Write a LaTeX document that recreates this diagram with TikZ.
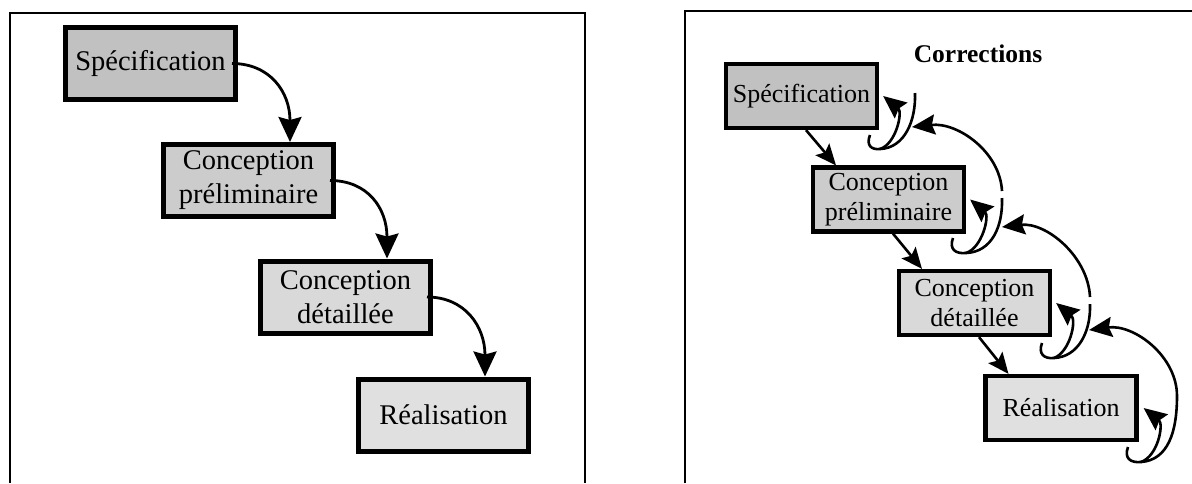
\documentclass[tikz,border=0pt]{standalone}
\usepackage{fontspec}
\setmainfont{Liberation Serif}
\usetikzlibrary{arrows.meta}
\definecolor{gA}{gray}{0.755}
\definecolor{gB}{gray}{0.80}
\definecolor{gC}{gray}{0.85}
\definecolor{gD}{gray}{0.88}
\begin{document}
\begin{tikzpicture}[x=1pt,y=-1pt,
  frame/.style={line width=2.2pt},
  boxL/.style={draw, line width=5pt, minimum width=170pt, minimum height=72pt, align=center, inner sep=0pt, font=\fontsize{28.5}{34}\selectfont},
  boxR/.style={draw, line width=4.2pt, minimum width=151pt, minimum height=64pt, align=center, inner sep=0pt, font=\fontsize{26}{30}\selectfont},
  flowL/.style={line width=2.8pt, -{Stealth[length=25pt,width=23pt,inset=3pt]}},
  flowR/.style={line width=2.6pt, -{Stealth[length=21pt,width=18pt,inset=4pt]}},
  hookline/.style={line width=2.6pt},
  backarrow/.style={line width=2.6pt, -{Stealth[length=23pt,width=20pt,inset=3pt]}},
]
\useasboundingbox (0,0) rectangle (1192,483);

% frames
\draw[frame] (10,483) -- (10,13) -- (585,13) -- (585,483);
\draw[frame] (685,483) -- (685,11) -- (1192,11);

% ---------- left panel ----------
\node[boxL, fill=gA] (sL)  at (150.5,63.5) {Spécification};
\node[boxL, fill=gB] (cpL) at (248.5,180.5) {Conception\\préliminaire};
\node[boxL, fill=gC] (cdL) at (345.5,297) {Conception\\détaillée};
\node[boxL, fill=gD] (rL)  at (443.5,415) {Réalisation};

\draw[flowL] ([xshift=-6pt]sL.east)  .. controls +(38,0) and +(0,-50) .. ([xshift=41.5pt]cpL.north);
\draw[flowL] ([xshift=-6pt]cpL.east) .. controls +(38,0) and +(0,-50) .. ([xshift=41.5pt]cdL.north);
\draw[flowL] ([xshift=-6pt]cdL.east) .. controls +(38,0) and +(0,-50) .. ([xshift=41.5pt]rL.north);

% ---------- right panel ----------
\node[boxR, fill=gA] (sR)  at (801.5,96) {Spécification};
\node[boxR, fill=gB] (cpR) at (888.5,199.5) {Conception\\préliminaire};
\node[boxR, fill=gC] (cdR) at (974.5,303) {Conception\\détaillée};
\node[boxR, fill=gD] (rR)  at (1061,408) {Réalisation};
\node[font=\bfseries\fontsize{25.5}{30}\selectfont] (corr) at (978,54) {Corrections};

\draw[flowR] ([xshift=4.5pt]sR.south)  -- ([xshift=-52.5pt]cpR.north);
\draw[flowR] ([xshift=4.5pt]cpR.south) -- ([xshift=-52.5pt]cdR.north);
\draw[flowR] ([xshift=4.5pt]cdR.south) -- ([xshift=-52.5pt]rR.north);

% loop points
\coordinate (h1) at (870,135);  \coordinate (b1) at (880,149);
\coordinate (o1) at (915,93);   \coordinate (u1) at (912,127);
\coordinate (h2) at (953,238);  \coordinate (b2) at (966,253);
\coordinate (o2) at (1002,198); \coordinate (v2) at (1002,191); \coordinate (u2) at (1002,227);
\coordinate (h3) at (1042,343); \coordinate (b3) at (1054,358);
\coordinate (o3) at (1090,304); \coordinate (v3) at (1090,297); \coordinate (u3) at (1089,330);
\coordinate (h4) at (1128,447); \coordinate (b4) at (1141,462);

% Spécification loop
\draw[hookline] (h1) .. controls (866,145) and (871,150) .. (b1);
\draw[backarrow] (b1) .. controls (896,144) and (903,112) .. ([xshift=4pt]sR.east);
\draw[hookline] (b1) .. controls (905,148) and (916,120) .. (o1);

% Conception préliminaire loop
\draw[hookline] (h2) .. controls (949,249) and (955,254) .. (b2);
\draw[backarrow] (b2) .. controls (982,248) and (990,216) .. ([xshift=4pt]cpR.east);
\draw[hookline] (b2) .. controls (992,252) and (1003,226) .. (o2);
\draw[backarrow] (v2) .. controls (1000,152) and (958,122) .. (u1);

% Conception détaillée loop
\draw[hookline] (h3) .. controls (1038,354) and (1044,359) .. (b3);
\draw[backarrow] (b3) .. controls (1070,352) and (1077,320) .. ([xshift=4pt]cdR.east);
\draw[hookline] (b3) .. controls (1078,357) and (1091,332) .. (o3);
\draw[backarrow] (v3) .. controls (1088,256) and (1046,222) .. (u2);

% Réalisation loop
\draw[hookline] (h4) .. controls (1124,458) and (1130,463) .. (b4);
\draw[backarrow] (b4) .. controls (1158,456) and (1164,424) .. ([xshift=5pt]rR.east);
\draw[backarrow] (b4) .. controls (1168,460) and (1177,432) .. (1177,396)
  .. controls (1177,356) and (1134,324) .. (u3);
\end{tikzpicture}
\end{document}
